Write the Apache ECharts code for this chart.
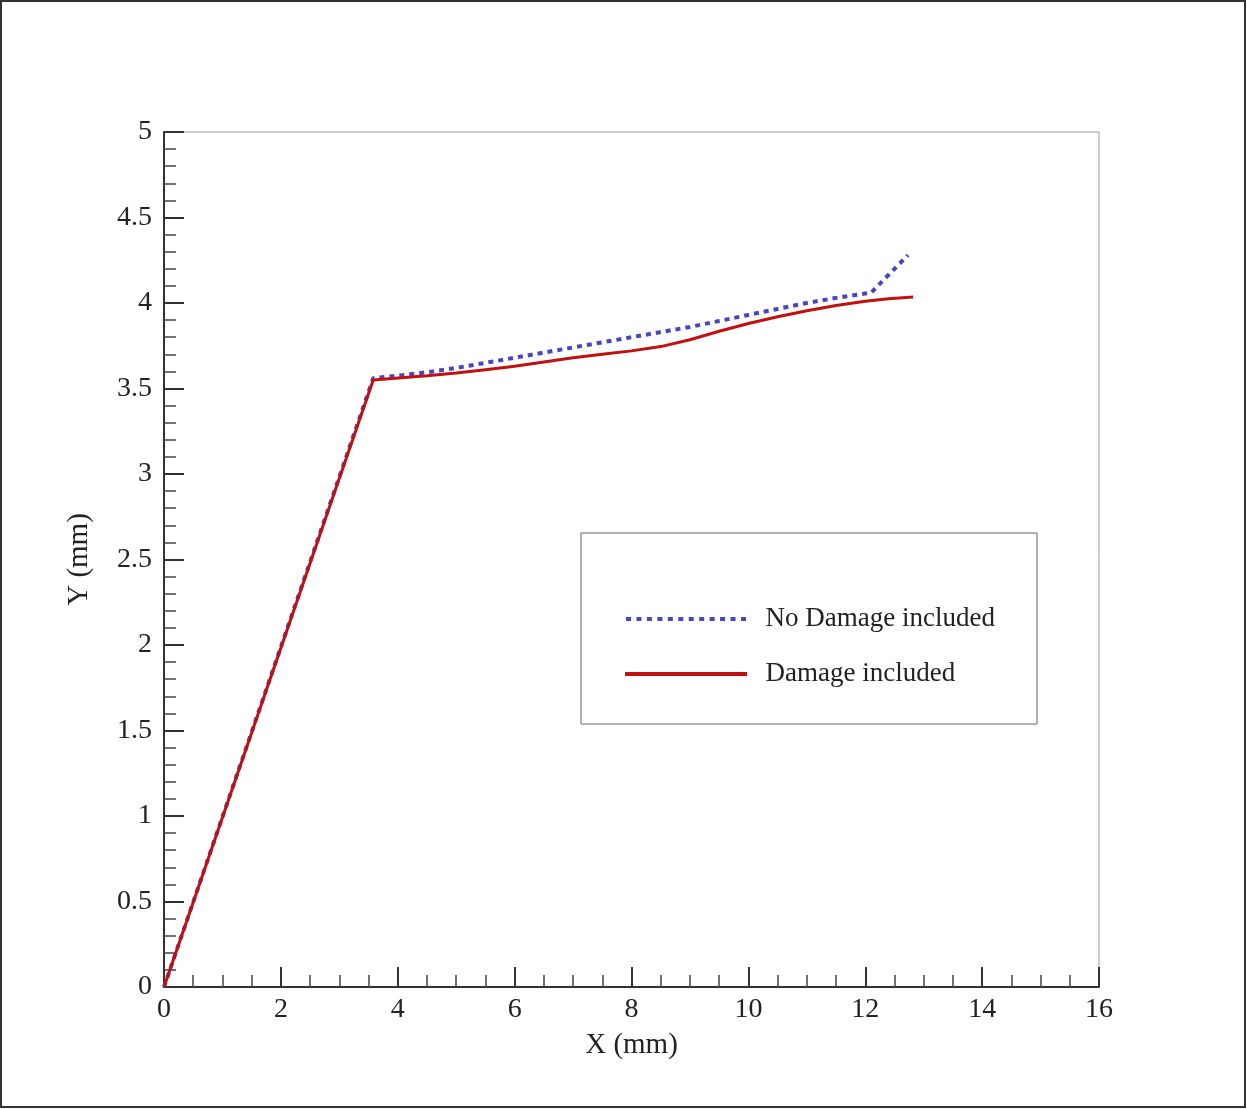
<!DOCTYPE html>
<html>
<head>
<meta charset="utf-8">
<script src="https://cdn.jsdelivr.net/npm/echarts@6/dist/echarts.min.js"></script>
<style>
html,body{margin:0;padding:0;background:#fff;}
#chart{width:1247px;height:1109px;}
</style>
</head>
<body>
<div id="chart"></div>
<script>
const seriesNames = ['No Damage included', 'Damage included'];
const xNoDamage = [0, 3.58, 4, 4.5, 5, 5.5, 6, 6.5, 7, 7.5, 8, 8.5, 9, 9.5, 10, 10.5, 11, 11.5, 12.1, 12.73];
const yNoDamage = [0, 3.56, 3.575, 3.595, 3.62, 3.65, 3.68, 3.71, 3.74, 3.77, 3.80, 3.83, 3.86, 3.895, 3.93, 3.965, 4.00, 4.03, 4.06, 4.28];
const xDamage = [0, 3.58, 4.5, 5, 5.5, 6, 6.5, 7, 7.5, 8, 8.5, 9, 9.5, 10, 10.5, 11, 11.5, 12, 12.4, 12.82];
const yDamage = [0, 3.55, 3.575, 3.59, 3.61, 3.63, 3.655, 3.68, 3.70, 3.72, 3.745, 3.785, 3.835, 3.88, 3.92, 3.955, 3.985, 4.01, 4.025, 4.035];
const xTicks = [0, 2, 4, 6, 8, 10, 12, 14, 16];
const yTicks = [0, 0.5, 1, 1.5, 2, 2.5, 3, 3.5, 4, 4.5, 5];

const font = "'Liberation Serif', 'DejaVu Serif', serif";
const pair = (xs, ys) => xs.map((x, i) => [x, ys[i]]);

// legend icons (style only)
let dotPath = 'path://';
for (let i = 0; i < 12; i++) {
  const x0 = (i * 115 / 11).toFixed(2);
  dotPath += 'M' + x0 + ',0h5v4h-5z';
}
const solidPath = 'path://M0,0h123v4h-123z';

const chart = echarts.init(document.getElementById('chart'), null, {renderer: 'canvas'});
const axisCommon = {
  axisLine: {show: true, onZero: false, lineStyle: {color: '#333', width: 2}},
  axisTick: {show: true, inside: true, length: 20, lineStyle: {color: '#333', width: 2}},
  minorTick: {show: true, length: 12, lineStyle: {color: '#444', width: 1.5}},
  splitLine: {show: false},
  axisLabel: {color: '#222', fontFamily: font, fontSize: 28},
  nameTextStyle: {color: '#222', fontFamily: font, fontSize: 29},
  nameLocation: 'middle'
};
chart.setOption({
  backgroundColor: '#fff',
  animation: false,
  graphic: [
    {type: 'rect', shape: {x: 1, y: 1, width: 1244, height: 1106}, style: {fill: 'none', stroke: '#333', lineWidth: 2}, silent: true},
    {type: 'rect', shape: {x: 581, y: 533, width: 456, height: 191}, style: {fill: '#fff', stroke: '#666', lineWidth: 1}, z: 5, silent: true}
  ],
  grid: {left: 164, right: 148, top: 132, bottom: 122, show: true, borderColor: '#999', borderWidth: 1, backgroundColor: '#fff'},
  xAxis: Object.assign({}, axisCommon, {
    type: 'value', min: xTicks[0], max: xTicks[xTicks.length - 1], interval: 2,
    name: 'X (mm)', nameGap: 44,
    minorTick: Object.assign({}, axisCommon.minorTick, {splitNumber: 4}),
    axisLabel: Object.assign({}, axisCommon.axisLabel, {margin: 9})
  }),
  yAxis: Object.assign({}, axisCommon, {
    type: 'value', min: yTicks[0], max: yTicks[yTicks.length - 1], interval: 0.5,
    name: 'Y (mm)', nameGap: 70,
    minorTick: Object.assign({}, axisCommon.minorTick, {splitNumber: 5}),
    axisLabel: Object.assign({}, axisCommon.axisLabel, {margin: 12})
  }),
  legend: {
    orient: 'vertical', left: 620, top: 599, z: 10,
    itemWidth: 122, itemHeight: 4, itemGap: 25,
    formatter: function (n) { return '  ' + n; },
    textStyle: {fontFamily: font, fontSize: 27, color: '#222', lineHeight: 30},
    data: [
      {name: seriesNames[0], icon: dotPath, itemStyle: {color: '#4646c0'}},
      {name: seriesNames[1], icon: solidPath, itemStyle: {color: '#c01010'}}
    ]
  },
  series: [
    {
      name: seriesNames[0], type: 'line', data: pair(xNoDamage, yNoDamage),
      showSymbol: false, symbol: 'none',
      lineStyle: {color: '#4646c0', width: 4, type: [5, 5], cap: 'butt'},
      itemStyle: {color: '#4646c0'}, z: 2
    },
    {
      name: seriesNames[1], type: 'line', data: pair(xDamage, yDamage),
      showSymbol: false, symbol: 'none',
      lineStyle: {color: '#c01010', width: 3},
      itemStyle: {color: '#c01010'}, z: 3
    }
  ]
});
</script>
</body>
</html>
